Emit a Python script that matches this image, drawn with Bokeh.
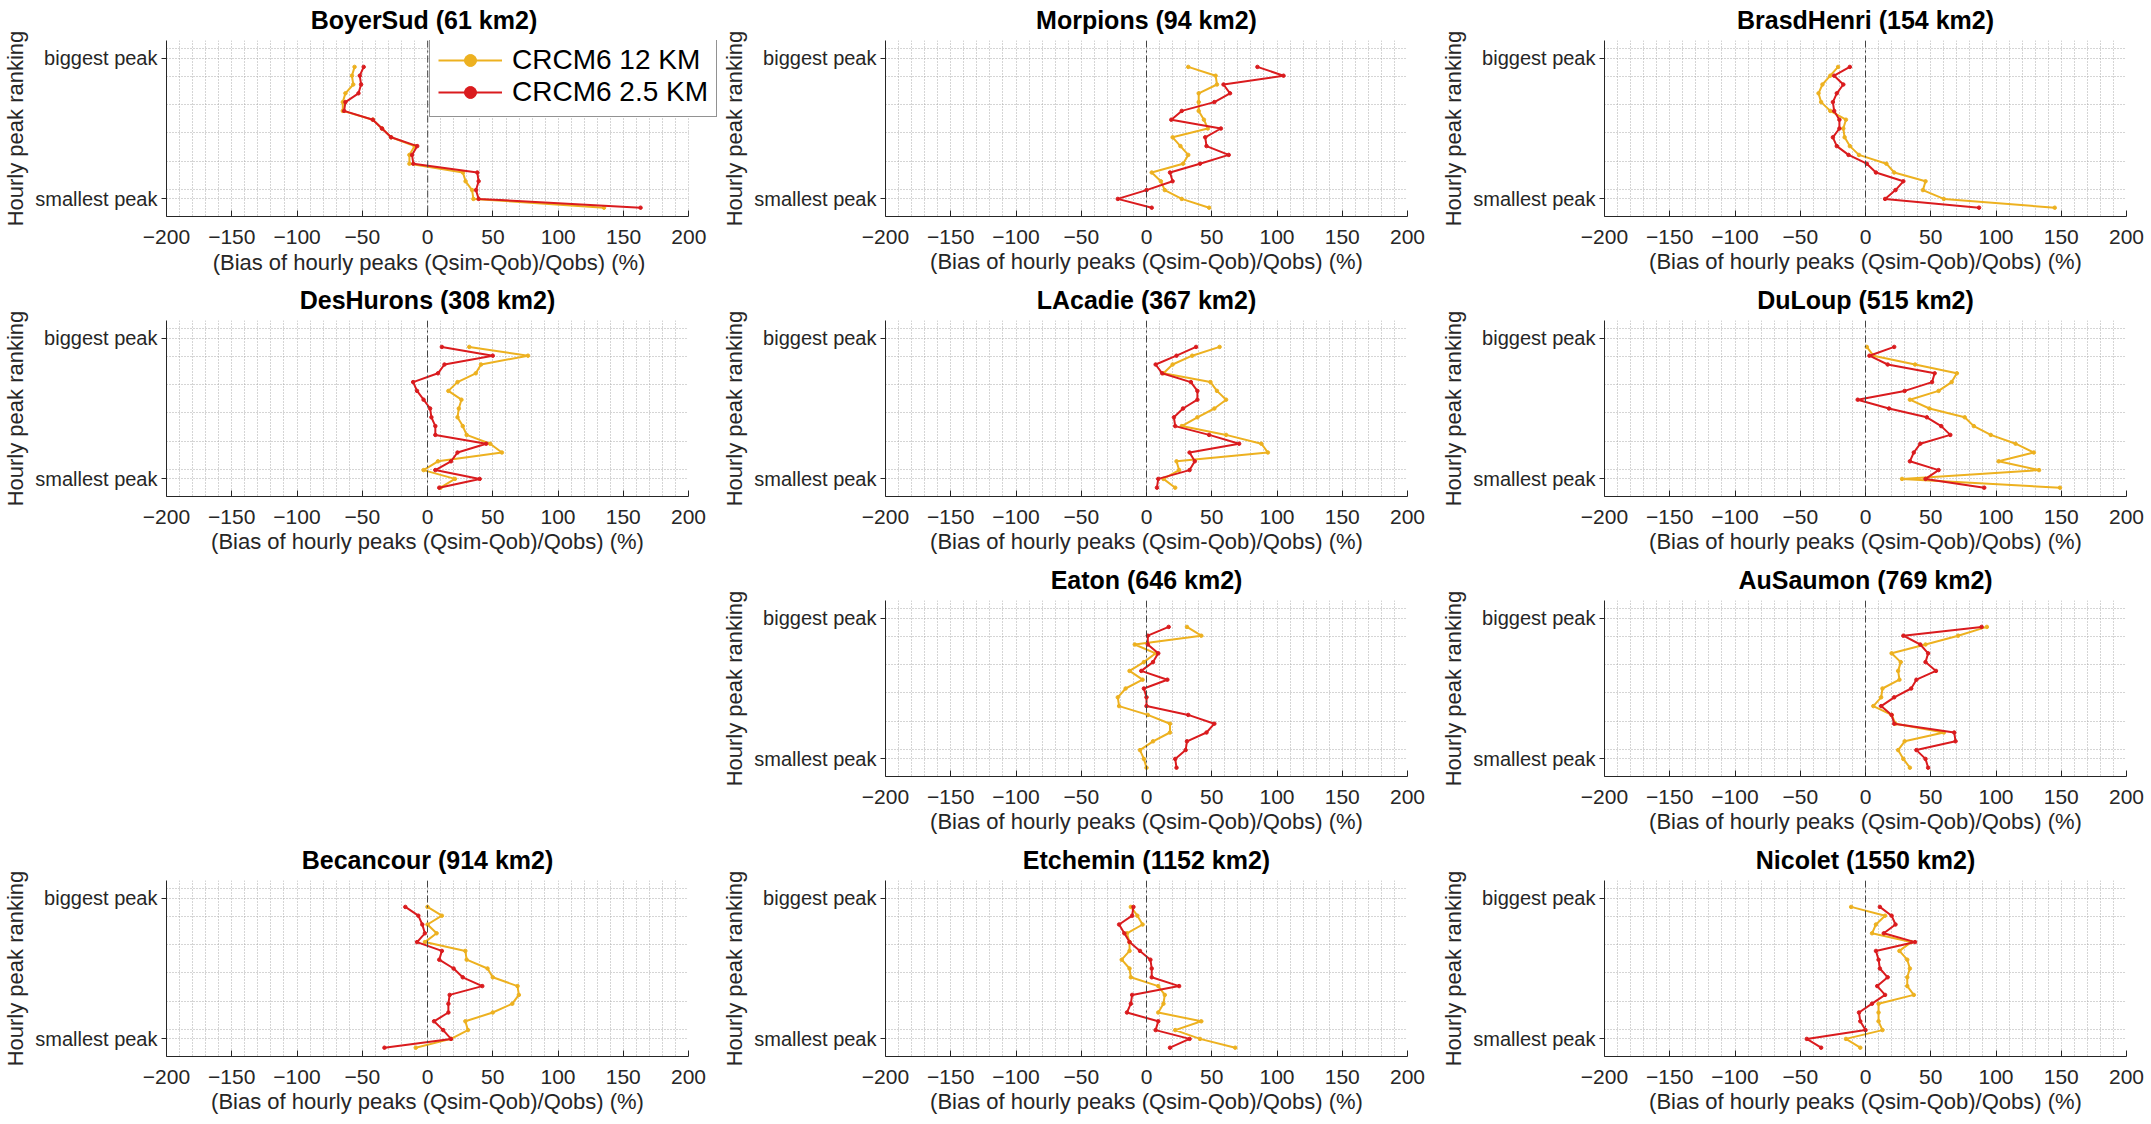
from bokeh.plotting import figure
from bokeh.models import (Range1d, FixedTicker, Legend, LegendItem, Span, Spacer,
                          BoxAnnotation, Title)
from bokeh.layouts import row, column
from bokeh.embed import file_html
from bokeh.resources import INLINE

# ---------------- data ----------------
ranks = [1, 2, 3, 4, 5, 6, 7, 8, 9, 10, 11, 12, 13, 14, 15, 16, 17]
x_ticks = [-200, -150, -100, -50, 0, 50, 100, 150, 200]
y_ticks = [0, 16]
y_tick_labels = ["biggest peak", "smallest peak"]
series_names = ["CRCM6 12 KM", "CRCM6 2.5 KM"]
x_label = "(Bias of hourly peaks (Qsim-Qob)/Qobs) (%)"
y_label = "Hourly peak ranking"

stations = ["BoyerSud", "Morpions", "BrasdHenri", "DesHurons", "LAcadie", "DuLoup",
            "Eaton", "AuSaumon", "Becancour", "Etchemin", "Nicolet"]
areas = [61, 94, 154, 308, 367, 515, 646, 769, 914, 1152, 1550]

boyersud_12 = [-56, -58, -57, -63, -65, -65, -42, -35, -28, -10, -14, -14, 27, 29, 34, 35, 135]
boyersud_25 = [-49, -52, -51, -53, -63, -64, -42, -35, -28, -8, -12, -11, 38, 39, 37, 39, 163]
morpions_12 = [32, 53, 54, 40, 40, 40, 44, 47, 20, 26, 32, 28, 4, 11, 14, 27, 48]
morpions_25 = [85, 105, 59, 64, 52, 27, 19, 57, 45, 46, 63, 41, 18, 20, 0, -22, 4]
brasdhenri_12 = [-21, -27, -33, -36, -34, -27, -15, -17, -16, -12, -5, 16, 22, 46, 44, 60, 145]
brasdhenri_25 = [-12, -24, -17, -22, -25, -24, -20, -20, -25, -22, -13, 1, 8, 29, 23, 15, 87]
deshurons_12 = [32, 77, 41, 37, 23, 16, 26, 24, 23, 27, 30, 48, 57, 8, -3, 21, 10]
deshurons_25 = [11, 50, 13, 8, -11, -8, -3, 2, 3, 6, 6, 45, 23, 18, 6, 40, 9]
lacadie_12 = [56, 35, 20, 13, 49, 54, 61, 52, 39, 27, 61, 88, 93, 23, 25, 13, 22]
lacadie_25 = [38, 23, 7, 12, 34, 39, 39, 28, 21, 22, 48, 71, 33, 37, 33, 9, 8]
duloup_12 = [1, 6, 38, 70, 66, 56, 34, 49, 76, 83, 96, 115, 129, 102, 133, 28, 149]
duloup_25 = [22, 3, 17, 53, 51, 30, -6, 18, 47, 58, 65, 42, 37, 34, 56, 46, 91]
eaton_12 = [31, 42, -9, 7, -2, -13, -3, -16, -22, -21, 1, 18, 18, 5, -5, -2, 0]
eaton_25 = [17, 1, 1, 9, 5, -4, 16, -2, 0, 0, 32, 52, 46, 31, 30, 22, 23]
ausaumon_12 = [93, 71, 46, 20, 27, 25, 26, 13, 12, 6, 20, 23, 60, 30, 25, 29, 34]
ausaumon_25 = [89, 29, 42, 48, 46, 54, 39, 35, 22, 12, 20, 22, 68, 69, 39, 46, 48]
becancour_12 = [0, 11, 0, 7, -2, 29, 30, 46, 50, 69, 70, 65, 50, 29, 31, 18, -9]
becancour_25 = [-17, -7, -4, -2, -8, 11, 9, 20, 27, 42, 17, 16, 16, 5, 12, 18, -33]
etchemin_12 = [-12, -7, -3, -15, -13, -13, -19, -13, -12, 9, 14, 13, 9, 42, 22, 41, 68]
etchemin_25 = [-10, -11, -21, -17, -13, -5, 3, 4, 4, 25, -11, -12, -15, 9, 7, 33, 18]
nicolet_12 = [-11, 15, 8, 5, 35, 26, 32, 34, 32, 32, 37, 10, 10, 10, 13, -15, -4]
nicolet_25 = [11, 20, 23, 14, 38, 8, 10, 11, 17, 9, 15, 5, -5, -4, 0, -45, -34]

# ---------------- style ----------------
FONT = "Liberation Sans"
C12 = "#EDB120"
C25 = "#DA1B1E"
AXC = "#262626"
GRIDC = "#ababab"
CELL_H = 280
FRAME_W = 529
LEFT = 159
TOP = 39
BOTTOM = 64
X_MIN, X_MAX = -200, 200
x_grid = list(range(-200, 201, 10))
y_grid = [-1.1, 0, 2.1, 5.3, 8.5, 11.7, 14.9, 16]


def panel(name, area, v12, v25, w, legend=False, extra=0):
    frame_w = FRAME_W + extra
    x_end = X_MAX + extra * (X_MAX - X_MIN) / FRAME_W
    p = figure(width=w, height=CELL_H, x_range=Range1d(X_MIN, x_end), y_range=Range1d(18, -2),
               output_backend="svg", toolbar_location=None,
               min_border_left=LEFT, min_border_right=w - LEFT - frame_w,
               min_border_top=TOP, min_border_bottom=BOTTOM)
    title_text = f"{name} ({area} km2)"
    p.title.text = title_text
    p.title.text_font = FONT
    p.title.text_font_size = "25px"
    p.title.text_font_style = "bold"
    p.title.text_color = "#000000"
    p.title.standoff = 10
    p.title.vertical_align = "top"
    if extra:
        # frame is wider than the axis (room for the legend): centre on the axis span
        p.title.align = "left"
        p.title.offset = FRAME_W / 2 - 9.06 * 25 / 2 - 7
    else:
        p.title.align = "center"
    p.outline_line_color = None
    p.background_fill_color = "white"
    p.border_fill_color = "white"

    xa = p.xaxis[0]
    xa.bounds = (X_MIN, X_MAX)
    xa.ticker = FixedTicker(ticks=x_ticks, minor_ticks=[])
    xa.major_label_text_font = FONT
    xa.major_label_text_font_size = "21px"
    xa.major_label_text_color = AXC
    xa.major_label_standoff = 13
    xa.major_tick_in = 6
    xa.major_tick_out = 0
    xa.axis_line_color = AXC
    xa.major_tick_line_color = AXC
    if extra:
        xt = Title(text=x_label, align="left", offset=FRAME_W / 2 - 19.67 * 22 / 2 - 2,
                   text_font=FONT, text_font_size="22px", text_font_style="normal",
                   text_color=AXC, standoff=2)
        p.add_layout(xt, "below")
    else:
        xa.axis_label = x_label
        xa.axis_label_text_font = FONT
        xa.axis_label_text_font_size = "22px"
        xa.axis_label_text_font_style = "normal"
        xa.axis_label_text_color = AXC
        xa.axis_label_standoff = 2

    ya = p.yaxis[0]
    ya.ticker = FixedTicker(ticks=y_ticks, minor_ticks=[])
    ya.major_label_overrides = {t: l for t, l in zip(y_ticks, y_tick_labels)}
    ya.axis_label = y_label
    ya.axis_label_text_font = FONT
    ya.axis_label_text_font_size = "22px"
    ya.axis_label_text_font_style = "normal"
    ya.axis_label_text_color = AXC
    ya.axis_label_standoff = 4
    ya.major_label_text_font = FONT
    ya.major_label_text_font_size = "20px"
    ya.major_label_text_color = AXC
    ya.major_label_standoff = 4
    ya.major_tick_in = 0
    ya.major_tick_out = 5
    ya.axis_line_color = AXC
    ya.major_tick_line_color = AXC

    p.xgrid.ticker = FixedTicker(ticks=x_grid)
    p.ygrid.ticker = FixedTicker(ticks=y_grid)
    for g in (p.xgrid[0], p.ygrid[0]):
        g.grid_line_color = GRIDC
        g.grid_line_dash = "1 2"
        g.grid_line_width = 1

    if extra:
        # hide grid beyond the +200 limit (area only used by the legend)
        p.add_layout(BoxAnnotation(left=X_MAX, fill_color="white", fill_alpha=1.0,
                                   line_color=None, level="underlay"))

    p.add_layout(Span(location=0, dimension="height", line_color="#444444",
                      line_dash="7 3 2 3", line_width=1))

    l12 = p.line(v12, ranks, line_color=C12, line_width=2)
    s12 = p.scatter(v12, ranks, size=3.5, color=C12)
    l25 = p.line(v25, ranks, line_color=C25, line_width=2)
    s25 = p.scatter(v25, ranks, size=3.5, color=C25)

    if legend:
        lg = Legend(items=[LegendItem(label=series_names[0], renderers=[l12, s12]),
                           LegendItem(label=series_names[1], renderers=[l25, s25])],
                    location=(263, 99))
        lg.label_text_font = FONT
        lg.label_text_font_size = "28px"
        lg.label_text_color = "#000000"
        lg.glyph_width = 64
        lg.glyph_height = 30
        lg.label_standoff = 10
        lg.label_height = 30
        lg.spacing = 0
        lg.padding = 8
        lg.margin = 0
        lg.border_line_color = AXC
        lg.border_line_width = 1
        lg.background_fill_color = "white"
        lg.background_fill_alpha = 1.0
        p.add_layout(lg, "center")
    return p


vals = [(boyersud_12, boyersud_25), (morpions_12, morpions_25), (brasdhenri_12, brasdhenri_25),
        (deshurons_12, deshurons_25), (lacadie_12, lacadie_25), (duloup_12, duloup_25),
        (eaton_12, eaton_25), (ausaumon_12, ausaumon_25),
        (becancour_12, becancour_25), (etchemin_12, etchemin_25), (nicolet_12, nicolet_25)]
widths = [719, 719, 713]


def mk(i, col):
    a, b = vals[i]
    if i == 0:
        return panel(stations[i], areas[i], a, b, widths[col], legend=True,
                     extra=widths[col] - LEFT - FRAME_W)
    return panel(stations[i], areas[i], a, b, widths[col])


r1 = row(mk(0, 0), mk(1, 1), mk(2, 2))
r2 = row(mk(3, 0), mk(4, 1), mk(5, 2))
r3 = row(Spacer(width=719, height=CELL_H), mk(6, 1), mk(7, 2))
r4 = row(mk(8, 0), mk(9, 1), mk(10, 2))
layout = column(r1, r2, r3, r4)

open("out.html", "w").write(file_html(layout, INLINE))
